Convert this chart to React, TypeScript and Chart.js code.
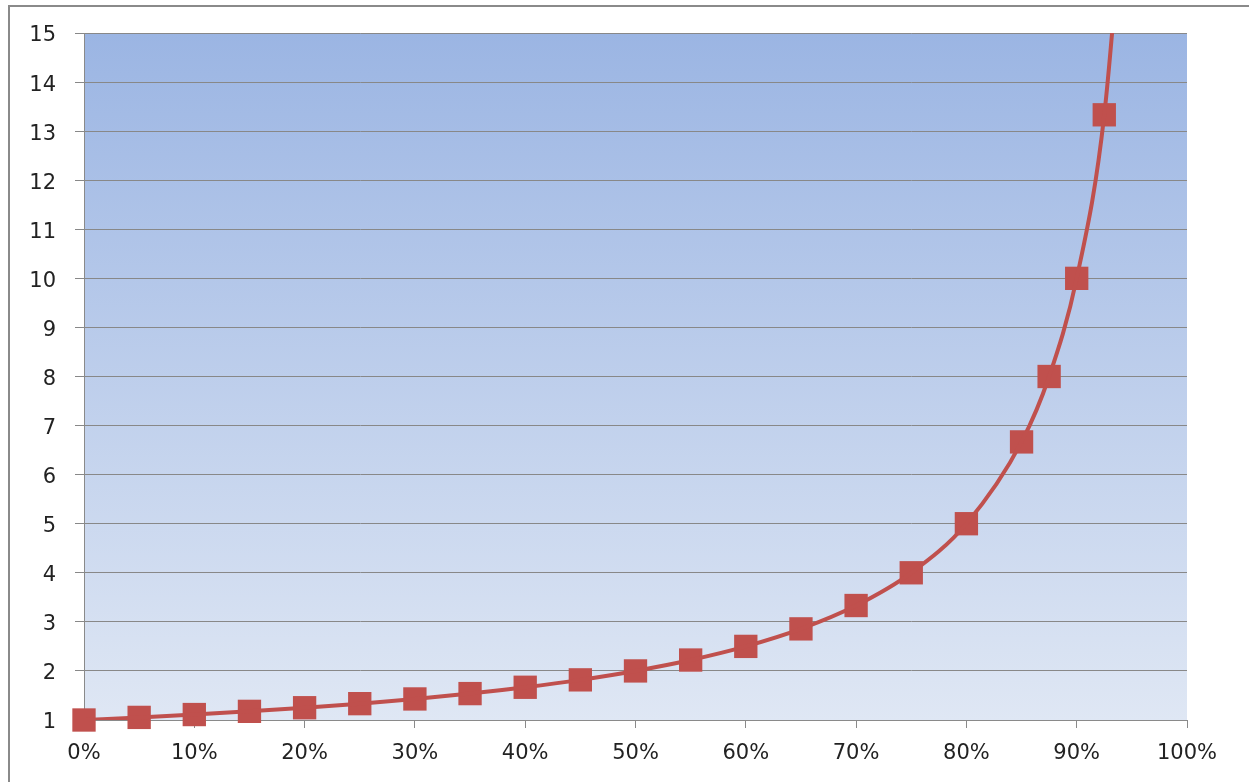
import React, { useEffect, useRef } from "react";
import { Chart, registerables } from "chart.js";

Chart.register(...registerables);

// x positions (fraction of work) and the values
const xValues = [0, 0.05, 0.1, 0.15, 0.2, 0.25, 0.3, 0.35, 0.4, 0.45, 0.5, 0.55, 0.6, 0.65, 0.7, 0.75, 0.8, 0.85, 0.875, 0.9, 0.925];
const yValues = [1, 1.053, 1.111, 1.176, 1.25, 1.333, 1.429, 1.538, 1.667, 1.818, 2, 2.222, 2.5, 2.857, 3.333, 4, 5, 6.667, 8, 10, 13.333];
// continuation of the curve beyond the top of the plot (no marker)
const lineExtraX = [0.95];
const lineExtraY = [20];
const xTicks = [0, 0.1, 0.2, 0.3, 0.4, 0.5, 0.6, 0.7, 0.8, 0.9, 1];
const yTicks = [1, 2, 3, 4, 5, 6, 7, 8, 9, 10, 11, 12, 13, 14, 15];

const bgPlugin = {
  id: "bgPlugin",
  beforeDraw(chart: any) {
    const { ctx, chartArea } = chart;
    if (!chartArea) return;
    ctx.save();
    ctx.strokeStyle = "#8a8a8a";
    ctx.lineWidth = 2;
    ctx.strokeRect(9, 6, 1400, 1000);
    const g = ctx.createLinearGradient(0, chartArea.top, 0, chartArea.bottom);
    g.addColorStop(0, "#9bb5e3");
    g.addColorStop(1, "#dfe7f4");
    ctx.fillStyle = g;
    ctx.fillRect(chartArea.left, chartArea.top, chartArea.right - chartArea.left, chartArea.bottom - chartArea.top);
    ctx.restore();
  },
};

export default function App() {
  const ref = useRef<HTMLCanvasElement | null>(null);
  useEffect(() => {
    if (!ref.current) return;
    const pts = xValues.map((x, i) => ({ x, y: yValues[i] }));
    const linePts = pts.concat(lineExtraX.map((x, i) => ({ x, y: lineExtraY[i] })));
    const chart = new Chart(ref.current, {
      type: "line",
      data: {
        datasets: [
          {
            data: linePts,
            borderColor: "#c0504d",
            borderWidth: 4,
            pointRadius: 0,
            pointHoverRadius: 0,
            cubicInterpolationMode: "monotone",
            fill: false,
          } as any,
          {
            data: pts,
            showLine: false,
            borderColor: "#c0504d",
            backgroundColor: "#c0504d",
            pointStyle: "rect",
            pointRadius: 16.5,
            pointHoverRadius: 16.5,
            pointBorderWidth: 0,
            clip: false,
          } as any,
        ],
      },
      options: {
        animation: false,
        responsive: false,
        maintainAspectRatio: false,
        layout: { padding: { left: 0, top: 33, right: 62, bottom: 0 } },
        plugins: { legend: { display: false }, tooltip: { enabled: false } },
        scales: {
          x: {
            type: "linear",
            min: 0,
            max: 1,
            afterFit: (s: any) => { s.height = 62; },
            afterBuildTicks: (s: any) => { s.ticks = xTicks.map((v) => ({ value: v })); },
            grid: { drawOnChartArea: false, color: "#8a8a8a", tickLength: 8, lineWidth: 1 },
            border: { color: "#8a8a8a", width: 1 },
            ticks: {
              color: "#222",
              font: { family: "DejaVu Sans", size: 21 },
              padding: 13,
              maxRotation: 0,
              callback: (v: any) => Math.round(Number(v) * 100) + "%",
            },
          },
          y: {
            type: "linear",
            min: 1,
            max: 15,
            afterFit: (s: any) => { s.width = 84; },
            afterBuildTicks: (s: any) => { s.ticks = yTicks.map((v) => ({ value: v })); },
            grid: { color: "#888888", tickLength: 9, lineWidth: 1 },
            border: { color: "#8a8a8a", width: 1 },
            ticks: {
              color: "#222",
              font: { family: "DejaVu Sans", size: 21 },
              padding: 19,
              labelOffset: 3,
            },
          },
        },
      },
      plugins: [bgPlugin],
    });
    return () => chart.destroy();
  }, []);
  return (
    <div style={{ position: "fixed", left: 0, top: 0, width: 1249, height: 782, background: "#fff" }}>
      <canvas ref={ref} width={1249} height={782} style={{ width: 1249, height: 782, display: "block" }} />
    </div>
  );
}
